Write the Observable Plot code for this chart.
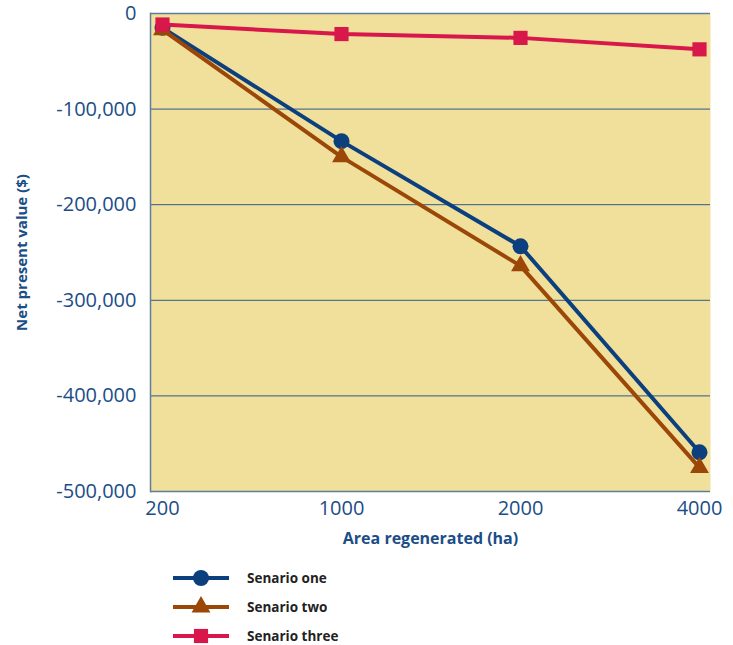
<!DOCTYPE html>
<html>
<head>
<meta charset="utf-8">
<script src="https://cdn.jsdelivr.net/npm/d3@7"></script>
<script src="https://cdn.jsdelivr.net/npm/@observablehq/plot@0.6"></script>
<style>
  html, body { margin: 0; padding: 0; background: #fff; }
  #wrap { position: relative; width: 733px; height: 645px; font-family: "Open Sans", "Noto Sans", sans-serif; }
  #legend { position: absolute; left: 0; top: 565px; width: 733px; }
  .item { position: absolute; left: 172px; height: 26px; display: flex; align-items: center; }
  .item span { margin-left: 17px; font-weight: bold; font-size: 13.5px; color: #222; }
</style>
</head>
<body>
<div id="wrap"><div id="chart"></div><div id="legend"></div></div>
<script>
// Area regenerated (ha) and net present value ($) for each scenario
const areas = ["200", "1000", "2000", "4000"];
const scenarioOne = [-15000, -133500, -243500, -459000];
const scenarioTwo = [-17000, -150000, -264000, -475000];
const scenarioThree = [-11500, -21500, -25500, -37500];
const scenarioNames = ["Senario one", "Senario two", "Senario three"];
const yTicks = [0, -100000, -200000, -300000, -400000, -500000];

const colors = ["#0c3f7e", "#9b4708", "#d8174b"];
const symbols = ["circle", "triangle", "square"];
const radii = [8, 7, 8];

const seriesValues = [scenarioOne, scenarioTwo, scenarioThree];
const rows = seriesValues.flatMap((vals, s) =>
  vals.map((v, i) => ({ area: areas[i], value: v, series: scenarioNames[s] }))
);

const axisBlue = "#1b4d86";
const fmt = d => d3.format(",")(d).replace("\u2212", "-");

const seriesMarks = scenarioNames.flatMap((name, s) => {
  const data = rows.filter(r => r.series === name);
  return [
    Plot.line(data, { x: "area", y: "value", stroke: colors[s], strokeWidth: 4 }),
    Plot.dot(data, { x: "area", y: "value", fill: colors[s], symbol: () => symbols[s], r: radii[s] })
  ];
});

const chart = Plot.plot({
  width: 733,
  height: 560,
  marginLeft: 150,
  marginRight: 23,
  marginTop: 13,
  marginBottom: 69,
  style: { fontFamily: "'Open Sans', 'Noto Sans', sans-serif", background: "transparent" },
  x: { type: "point", domain: areas, padding: 0.064 },
  y: { domain: [-500000, 0] },
  marks: [
    Plot.frame({ fill: "#f1e09b", stroke: null }),
    Plot.ruleY(yTicks.slice(1, 5), { stroke: "#2c5a8a", strokeWidth: 1 }),
    Plot.ruleY([0], { stroke: "#5d7d9d", strokeWidth: 1.5 }),
    Plot.ruleY([-500000], { stroke: "#5d7d9d", strokeWidth: 1.5 }),
    Plot.frame({ anchor: "left", stroke: "#5d7d9d", strokeWidth: 1.5 }),
    Plot.axisY({ ticks: yTicks, tickFormat: fmt, tickSize: 0, tickPadding: 14, fontSize: 20, fill: axisBlue, label: null }),
    Plot.axisX({ tickSize: 0, tickPadding: 9, fontSize: 20, fill: axisBlue, label: null }),
    Plot.text(["Net present value ($)"], { frameAnchor: "left", textAnchor: "middle", dx: -128, rotate: -90, fontWeight: "bold", fontSize: 15, fill: axisBlue }),
    Plot.text(["Area regenerated (ha)"], { frameAnchor: "bottom", dy: 52, fontWeight: "bold", fontSize: 16, fill: axisBlue }),
    ...seriesMarks
  ]
});
document.getElementById("chart").appendChild(chart);

// Legend: line with marker, then the scenario name
const legend = document.getElementById("legend");
scenarioNames.forEach((name, s) => {
  const item = document.createElement("div");
  item.className = "item";
  item.style.top = (s * 29) + "px";
  const sw = d3.create("svg").attr("width", 58).attr("height", 26);
  sw.append("line").attr("x1", 1).attr("x2", 57).attr("y1", 13).attr("y2", 13)
    .attr("stroke", colors[s]).attr("stroke-width", 4);
  sw.append("path").attr("transform", "translate(29,13)")
    .attr("d", d3.symbol(s === 0 ? d3.symbolCircle : s === 1 ? d3.symbolTriangle : d3.symbolSquare, Math.PI * radii[s] * radii[s])())
    .attr("fill", colors[s]);
  item.appendChild(sw.node());
  const label = document.createElement("span");
  label.textContent = name;
  item.appendChild(label);
  legend.appendChild(item);
});
</script>
</body>
</html>
